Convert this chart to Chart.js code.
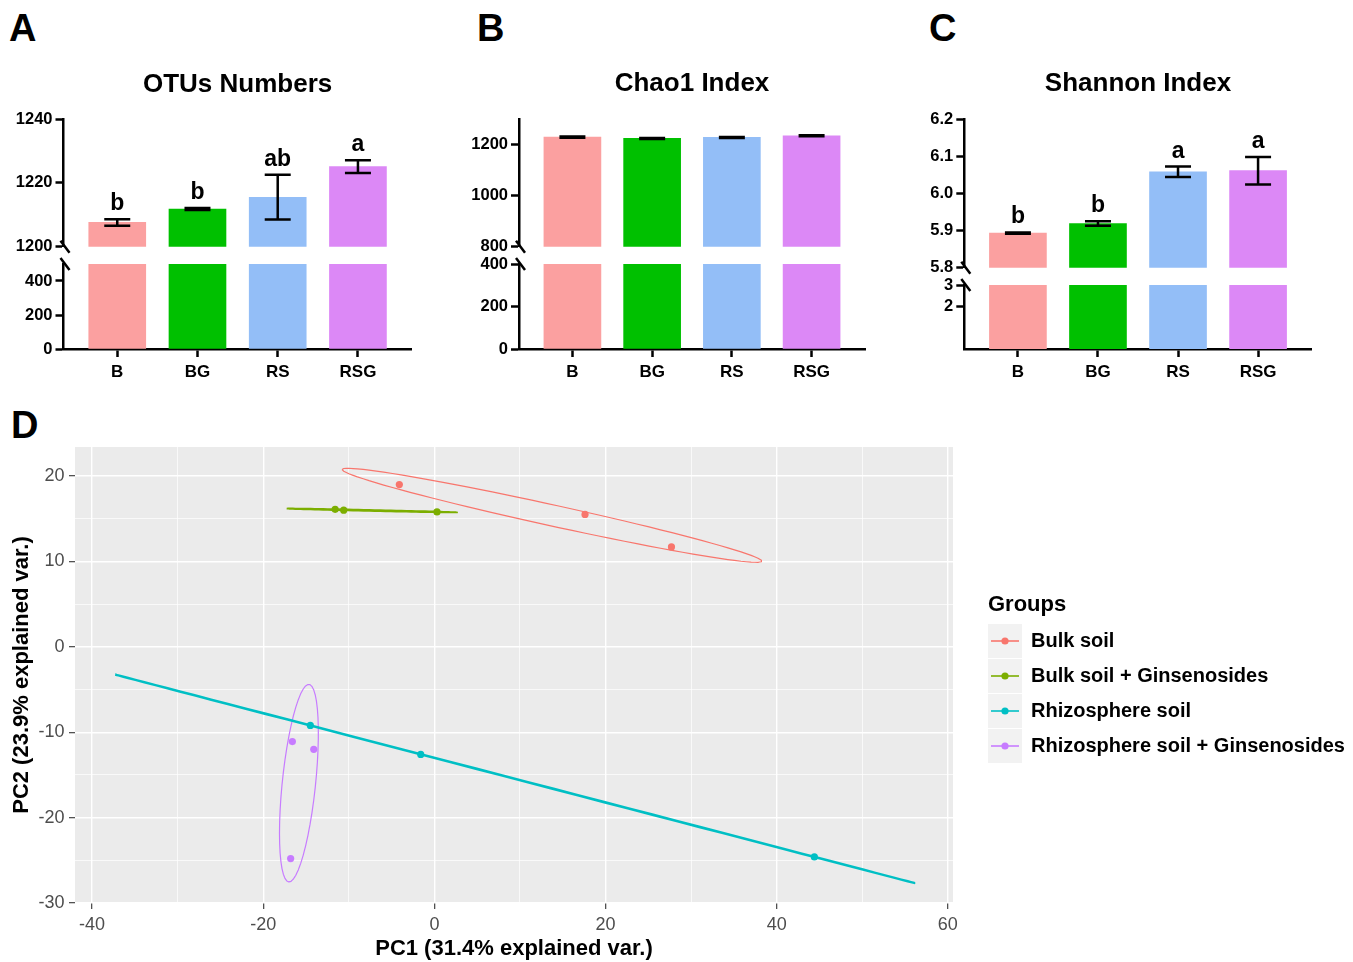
<!DOCTYPE html>
<html>
<head>
<meta charset="utf-8">
<title>Alpha diversity and PCA</title>
<script src="https://cdn.jsdelivr.net/npm/chart.js@4.4.1/dist/chart.umd.min.js"></script>
<style>
  body { margin: 0; width: 1353px; height: 962px; position: relative; overflow: hidden; background: #fff; }
  canvas { position: absolute; }
  .tag { position: absolute; font: bold 38px "Liberation Sans", Arial, sans-serif; line-height: 1; color: #000; }
</style>
</head>
<body>
<div class="tag" style="left:9px;top:9px">A</div>
<div class="tag" style="left:477px;top:9px">B</div>
<div class="tag" style="left:929px;top:9px">C</div>
<div class="tag" style="left:11px;top:406px">D</div>

<canvas id="otuTop" width="440" height="256" style="left:0;top:0"></canvas>
<canvas id="otuBottom" width="440" height="144" style="left:0;top:256px"></canvas>
<canvas id="chaoTop" width="460" height="256" style="left:440px;top:0"></canvas>
<canvas id="chaoBottom" width="460" height="144" style="left:440px;top:256px"></canvas>
<canvas id="shanTop" width="453" height="276" style="left:900px;top:0"></canvas>
<canvas id="shanBottom" width="453" height="124" style="left:900px;top:276px"></canvas>
<canvas id="pca" width="1353" height="522" style="left:0;top:440px"></canvas>

<script>
Chart.defaults.font.family = '"Liberation Sans", Arial, sans-serif';
Chart.defaults.color = '#000';

// groups and bar colours
const groups = ['B', 'BG', 'RS', 'RSG'];
const barColors = ['#FBA0A0', '#00C000', '#93BEF7', '#DC88F6'];

// A: OTUs numbers
const otuMeans = [1207.6, 1211.8, 1215.5, 1225.1];
const otuErrors = [1.0, 0.3, 7.0, 2.0];
const otuLetters = ['b', 'b', 'ab', 'a'];
const otuUpperTicks = [1200, 1220, 1240];
const otuLowerTicks = [0, 200, 400];

// B: Chao1 index
const chaoMeans = [1229, 1224, 1228, 1234];
const chaoErrors = [2, 2, 2, 2];
const chaoUpperTicks = [800, 1000, 1200];
const chaoLowerTicks = [0, 100, 200, 300, 400];

// C: Shannon index
const shannonMeans = [5.893, 5.919, 6.058, 6.061];
const shannonErrors = [0.002, 0.006, 0.014, 0.037];
const shannonLetters = ['b', 'b', 'a', 'a'];
const shannonUpperTicks = [5.8, 5.9, 6.0, 6.1, 6.2];
const shannonLowerTicks = [2, 3];

// D: PCA scores
const pcaGroups = ['Bulk soil', 'Bulk soil + Ginsenosides', 'Rhizosphere soil', 'Rhizosphere soil + Ginsenosides'];
const pcaColors = ['#F8766D', '#7CAE00', '#00BFC4', '#C77CFF'];
const bulkPC1 = [-4.1, 17.6, 27.7];
const bulkPC2 = [19.0, 15.5, 11.7];
const bulkGinPC1 = [-11.6, -10.6, 0.3];
const bulkGinPC2 = [16.1, 16.0, 15.8];
const rhizoPC1 = [-14.5, -1.6, 44.4];
const rhizoPC2 = [-9.2, -12.6, -24.6];
const rhizoGinPC1 = [-16.6, -14.1, -16.8];
const rhizoGinPC2 = [-11.1, -12.0, -24.8];
const pc1Ticks = [-40, -20, 0, 20, 40, 60];
const pc2Ticks = [-30, -20, -10, 0, 10, 20];

// ellipse stroke widths (the flat ones look heavier in the original)
const ellipseWidths = [1.2, 1.8, 2.3, 1.2];

// keep the chart area where the layout padding puts it
function noLabelPadding(s) {
  s.paddingTop = 0; s.paddingBottom = 0; s.paddingLeft = 0; s.paddingRight = 0;
}

// error bars + significance letters, read from the dataset
const errorBars = {
  id: 'errorBars',
  afterDatasetsDraw(chart) {
    const ds = chart.data.datasets[0];
    if (!ds.errors) return;
    const {ctx, scales: {x, y}} = chart;
    ctx.save();
    ctx.strokeStyle = '#000';
    ctx.lineWidth = 2.5;
    ctx.fillStyle = '#000';
    ctx.font = 'bold 23px "Liberation Sans", Arial, sans-serif';
    ctx.textAlign = 'center';
    ctx.textBaseline = 'alphabetic';
    ds.data.forEach((p, i) => {
      const px = x.getPixelForValue(p.x);
      const top = y.getPixelForValue(p.y + ds.errors[i]);
      const bot = y.getPixelForValue(p.y - ds.errors[i]);
      ctx.beginPath();
      ctx.moveTo(px, top); ctx.lineTo(px, bot);
      ctx.moveTo(px - 13, top); ctx.lineTo(px + 13, top);
      ctx.moveTo(px - 13, bot); ctx.lineTo(px + 13, bot);
      ctx.stroke();
      if (ds.letters) ctx.fillText(ds.letters[i], px, top - 9);
    });
    ctx.restore();
  }
};

// little "\" marks where the y axis is broken
const axisBreak = {
  id: 'axisBreak',
  afterDraw(chart, args, o) {
    if (!o.at) return;
    const {ctx, chartArea: a} = chart;
    const y = o.at === 'bottom' ? a.bottom : a.top;
    ctx.save();
    ctx.strokeStyle = '#000';
    ctx.lineWidth = 2.5;
    ctx.beginPath();
    ctx.moveTo(a.left - 3, y - 6);
    ctx.lineTo(a.left + 6, y + 6);
    ctx.stroke();
    ctx.restore();
  }
};

function segment(id, cfg) {
  return new Chart(document.getElementById(id), {
    type: 'bar',
    data: {
      datasets: [{
        data: cfg.values.map((v, i) => ({x: i, y: v})),
        errors: cfg.errors,
        letters: cfg.letters,
        backgroundColor: barColors,
        barThickness: 57,
        clip: 0
      }]
    },
    options: {
      responsive: false,
      animation: false,
      layout: {padding: cfg.pad},
      plugins: {
        legend: {display: false},
        tooltip: {enabled: false},
        title: {
          display: !!cfg.title,
          text: cfg.title || '',
          color: '#000',
          fullSize: false,
          font: {size: 26, weight: 'bold'},
          padding: {top: 0, bottom: cfg.titleGap || 0}
        },
        axisBreak: {at: cfg.breakAt}
      },
      scales: {
        x: {
          type: 'linear', min: -0.67, max: 3.67, bounds: 'data', offset: false,
          display: !!cfg.showX,
          afterBuildTicks: s => { s.ticks = groups.map((g, i) => ({value: i})); },
          afterFit: s => { if (cfg.showX) s.height = 51; noLabelPadding(s); },
          ticks: {color: '#000', font: {size: 17, weight: 'bold'}, padding: 5, autoSkip: false, maxRotation: 0,
                  callback: v => groups[v]},
          grid: {offset: false, drawOnChartArea: false, tickLength: 8, tickWidth: 2.5, tickColor: '#000'},
          border: {display: true, color: '#000', width: 2.5}
        },
        y: {
          min: cfg.min, max: cfg.max, bounds: 'data',
          afterBuildTicks: s => { s.ticks = cfg.ticks.map(v => ({value: v})); },
          afterFit: s => { s.width = cfg.yWidth; noLabelPadding(s); },
          ticks: {color: '#000', font: {size: 16.5, weight: 'bold'}, padding: 3,
                  callback: cfg.fmt || (v => v)},
          grid: {drawOnChartArea: false, tickLength: 8, tickWidth: 2.5, tickColor: '#000'},
          border: {display: true, color: '#000', width: 2.5}
        }
      }
    },
    plugins: [errorBars, axisBreak]
  });
}

segment('otuTop', {values: otuMeans, errors: otuErrors, letters: otuLetters, min: 1200, max: 1240,
  ticks: otuUpperTicks, title: 'OTUs Numbers', titleGap: 18.4, yWidth: 63.5, breakAt: 'bottom',
  pad: {top: 69.4, left: 0, right: 28.3, bottom: 9.3}});
segment('otuBottom', {values: otuMeans, min: 0, max: 500, ticks: otuLowerTicks, yWidth: 63.5,
  breakAt: 'top', showX: true, pad: {top: 8, left: 0, right: 28.3, bottom: 0}});

segment('chaoTop', {values: chaoMeans, errors: chaoErrors, min: 800, max: 1300,
  ticks: chaoUpperTicks, title: 'Chao1 Index', titleGap: 19.4, yWidth: 79, breakAt: 'bottom',
  pad: {top: 68.4, left: 0, right: 35, bottom: 9.3}});
segment('chaoBottom', {values: chaoMeans, min: 0, max: 400, ticks: chaoLowerTicks, yWidth: 79,
  breakAt: 'top', showX: true, pad: {top: 8, left: 0, right: 35, bottom: 0}});

segment('shanTop', {values: shannonMeans, errors: shannonErrors, letters: shannonLetters, min: 5.8, max: 6.2,
  ticks: shannonUpperTicks, title: 'Shannon Index', titleGap: 19.4, yWidth: 64.3, breakAt: 'bottom',
  fmt: v => v.toFixed(1), pad: {top: 68.4, left: 0, right: 41.3, bottom: 8.3}});
segment('shanBottom', {values: shannonMeans, min: 0, max: 3, ticks: shannonLowerTicks, yWidth: 64.3,
  breakAt: 'top', showX: true, pad: {top: 9, left: 0, right: 41.3, bottom: 0}});

// 68% normal ellipse around each group (same recipe as ggbiplot)
function ellipse(xs, ys) {
  const n = xs.length;
  const mx = xs.reduce((a, b) => a + b, 0) / n;
  const my = ys.reduce((a, b) => a + b, 0) / n;
  let sxx = 0, syy = 0, sxy = 0;
  for (let i = 0; i < n; i++) {
    sxx += (xs[i] - mx) ** 2;
    syy += (ys[i] - my) ** 2;
    sxy += (xs[i] - mx) * (ys[i] - my);
  }
  sxx /= n - 1; syy /= n - 1; sxy /= n - 1;
  const r11 = Math.sqrt(sxx), r12 = sxy / r11, r22 = Math.sqrt(Math.max(syy - r12 * r12, 0));
  const ed = Math.sqrt(-2 * Math.log(1 - 0.68));
  const pts = [];
  for (let k = 0; k < 50; k++) {
    const t = -Math.PI + 2 * Math.PI * k / 49;
    const c = Math.cos(t), s = Math.sin(t);
    pts.push({x: mx + ed * c * r11, y: my + ed * (c * r12 + s * r22)});
  }
  return pts;
}

function withMinors(ticks) {
  const out = ticks.slice();
  for (let i = 0; i < ticks.length - 1; i++) out.push((ticks[i] + ticks[i + 1]) / 2);
  return out.sort((a, b) => a - b);
}

const panelBackground = {
  id: 'panelBackground',
  beforeDraw(chart, args, o) {
    const {ctx, chartArea: a} = chart;
    ctx.save();
    ctx.fillStyle = o.color;
    ctx.fillRect(a.left, a.top, a.width, a.height);
    ctx.restore();
  }
};

const groupLegend = {
  id: 'groupLegend',
  afterDraw(chart, args, o) {
    const {ctx} = chart;
    const keys = chart.data.datasets.filter(d => d.legendKey);
    ctx.save();
    ctx.textAlign = 'left';
    ctx.textBaseline = 'middle';
    ctx.fillStyle = '#000';
    ctx.font = 'bold 22px "Liberation Sans", Arial, sans-serif';
    ctx.fillText(o.title, o.x, o.y);
    ctx.font = 'bold 20px "Liberation Sans", Arial, sans-serif';
    keys.forEach((d, i) => {
      const cy = o.firstY + i * o.step;
      ctx.fillStyle = '#F2F2F2';
      ctx.fillRect(o.x, cy - o.step / 2 + 0.5, 34, o.step - 1);
      ctx.strokeStyle = d.backgroundColor;
      ctx.lineWidth = 1.6;
      ctx.beginPath(); ctx.moveTo(o.x + 3, cy); ctx.lineTo(o.x + 31, cy); ctx.stroke();
      ctx.fillStyle = d.backgroundColor;
      ctx.beginPath(); ctx.arc(o.x + 17, cy, 3.6, 0, Math.PI * 2); ctx.fill();
      ctx.fillStyle = '#000';
      ctx.fillText(d.label, o.x + 43, cy);
    });
    ctx.restore();
  }
};

const pcaScores = [[bulkPC1, bulkPC2], [bulkGinPC1, bulkGinPC2], [rhizoPC1, rhizoPC2], [rhizoGinPC1, rhizoGinPC2]];
const pcaDatasets = [];
pcaScores.forEach(([xs, ys], g) => {
  pcaDatasets.push({label: pcaGroups[g], legendKey: true, data: xs.map((x, i) => ({x: x, y: ys[i]})),
    backgroundColor: pcaColors[g], borderWidth: 0, pointRadius: 3.6, order: 0});
  // a tiny tension keeps Chart.js off its "fast path", which squashes near-vertical runs
  pcaDatasets.push({label: pcaGroups[g] + ' ellipse', data: ellipse(xs, ys), showLine: true, tension: 0.001,
    borderColor: pcaColors[g], borderWidth: ellipseWidths[g], borderJoinStyle: 'round', pointRadius: 0,
    fill: false, order: 1});
});

const pc1Grid = withMinors(pc1Ticks);
const pc2Grid = withMinors(pc2Ticks);
const isMajor = (list, c) => c.tick && list.includes(c.tick.value);

new Chart(document.getElementById('pca'), {
  type: 'scatter',
  data: {datasets: pcaDatasets},
  options: {
    responsive: false,
    animation: false,
    layout: {padding: {top: 7, left: 0, right: 400, bottom: 0}},
    plugins: {
      legend: {display: false},
      tooltip: {enabled: false},
      panelBackground: {color: '#EBEBEB'},
      groupLegend: {title: 'Groups', x: 988, y: 165, firstY: 201, step: 35}
    },
    scales: {
      x: {
        type: 'linear', min: -42, max: 60.6, bounds: 'data',
        afterBuildTicks: s => { s.ticks = pc1Grid.map(v => ({value: v})); },
        afterFit: s => { s.height = 59; noLabelPadding(s); },
        ticks: {color: '#4D4D4D', font: {size: 18}, padding: 5, autoSkip: false, maxRotation: 0,
                callback: v => pc1Ticks.includes(v) ? String(v) : ''},
        grid: {color: '#FFFFFF', lineWidth: c => isMajor(pc1Ticks, c) ? 1.4 : 0.7,
               tickLength: 6, tickWidth: 1.1, tickColor: c => isMajor(pc1Ticks, c) ? '#333333' : 'rgba(0,0,0,0)'},
        border: {display: false},
        title: {display: true, text: 'PC1 (31.4% explained var.)', color: '#000',
                font: {size: 22, weight: 'bold'}, padding: {top: 0, bottom: 0}}
      },
      y: {
        min: -30, max: 23.4, bounds: 'data',
        afterBuildTicks: s => { s.ticks = pc2Grid.map(v => ({value: v})); },
        afterFit: s => { s.width = 75; noLabelPadding(s); },
        ticks: {color: '#4D4D4D', font: {size: 18}, padding: 4.5,
                callback: v => pc2Ticks.includes(v) ? String(v) : ''},
        grid: {color: '#FFFFFF', lineWidth: c => isMajor(pc2Ticks, c) ? 1.4 : 0.7,
               tickLength: 6, tickWidth: 1.1, tickColor: c => isMajor(pc2Ticks, c) ? '#333333' : 'rgba(0,0,0,0)'},
        border: {display: false},
        title: {display: true, text: 'PC2 (23.9% explained var.)', color: '#000',
                font: {size: 22, weight: 'bold'}, padding: {top: 9, bottom: 0}}
      }
    }
  },
  plugins: [panelBackground, groupLegend]
});
</script>
</body>
</html>
